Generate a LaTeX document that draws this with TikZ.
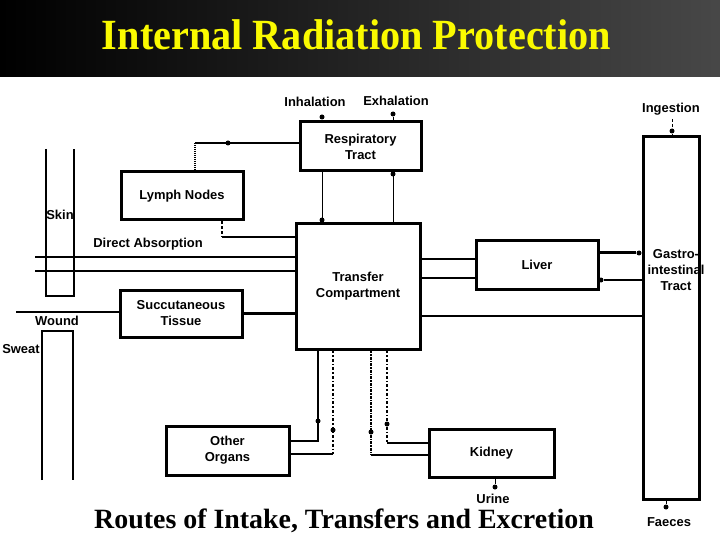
\documentclass[tikz,border=0pt]{standalone}
\usepackage{fontspec}
\setmainfont{Liberation Serif}
\setsansfont{Liberation Sans}
\definecolor{titleyellow}{RGB}{250,250,0}
\begin{document}
\begin{tikzpicture}[x=1bp,y=-1bp,
  lbl/.style={font=\sffamily\bfseries\fontsize{13}{16}\selectfont, inner sep=0, align=center},
  box/.style 2 args={draw, line width=3bp, inner sep=0, align=center,
    font=\sffamily\bfseries\fontsize{13}{16}\selectfont,
    minimum width=#1bp, minimum height=#2bp},
  conn/.style={line width=2.6bp},
  thinconn/.style={line width=1bp},
  blob/.style={circle, fill, inner sep=0, minimum size=5bp}]
\useasboundingbox (0,0) rectangle (720,540);
\fill[white] (0,0) rectangle (720,540);
\shade[left color=black, right color=black!72] (0,0) rectangle (720,77);

% titles
\node[font=\bfseries\fontsize{40}{40}\selectfont, text=titleyellow, inner sep=0] (title) at (356.5,35) {\scalebox{1.01}[1.08]{Internal Radiation Protection}};
\node[font=\bfseries\fontsize{28}{28}\selectfont, inner sep=0] (sub) at (344,521) {Routes of Intake, Transfers and Excretion};

% boxes
\node[box={121}{49}] (resp) at (360.5,146.5) {Respiratory\\Tract};
\node[box={122}{48}] (lymph) at (182,196) {Lymph Nodes};
\node[box={122}{47}] (subc) at (181,313.5) {Succutaneous\\Tissue};
\node[box={124}{125}] (trans) at (358,286.5) {Transfer\\Compartment};
\node[box={122}{48}] (liver) at (537,265) {Liver};
\node[box={56}{362}] (gi) at (671,318) {};
\node[lbl] (gitext) at (676,270) {Gastro-\\intestinal\\Tract};
\node[box={125}{48}] (kidney) at (491.5,453) {Kidney};
\node[box={123}{49}] (other) at (227.5,450.5) {Other\\Organs};

% labels
\node[lbl] (inh) at (315,102) {Inhalation};
\node[lbl] (exh) at (396,101) {Exhalation};
\node[lbl] (ing) at (671,109) {Ingestion};
\node[lbl] (skinl) at (60,215) {Skin};
\node[lbl] (da) at (148,244) {Direct Absorption};
\node[lbl] (wound) at (57,321) {Wound};
\node[lbl] (sweatl) at (21,349) {Sweat};
\node[lbl] (urine) at (493,499) {Urine};
\node[lbl] (faeces) at (669,522) {Faeces};

% dots
\node[blob] (dinh) at (322,117) {};
\node[blob] (dexh) at (393,114) {};
\node[blob] (ding) at (672,131) {};
\node[blob] (drl) at (228,143) {};
\node[blob] (dtin) at (322,220) {};
\node[blob] (dtout) at (393,174) {};
\node[blob] (dlg) at (639,253) {};
\node[blob] (dgl) at (601,280) {};
\node[blob] (do1) at (318,421) {};
\node[blob] (do2) at (333,430) {};
\node[blob] (dk1) at (371,432) {};
\node[blob] (dk2) at (387,424) {};
\node[blob] (durine) at (495,487) {};
\node[blob] (dfaeces) at (666,507) {};

% intake at top
\draw[thinconn] (dinh) -- (dinh |- resp.north);
\draw[thinconn] (dexh) -- (dexh |- resp.north);
\coordinate (ingtop) at (672,119);
\draw[thinconn, densely dashed] (ingtop) -- (ding);
\draw[thinconn] (ding) -- (ding |- gi.north);

% respiratory - lymph
\coordinate (rl) at (195,143);
\draw[conn] (resp.west |- rl) -- (rl);
\draw[thinconn, densely dotted, line width=1.5bp] (rl) -- (rl |- lymph.north);

% lymph - transfer
\coordinate (lt) at (222,237);
\draw[thinconn, densely dashed, line width=1.5bp] (lt |- lymph.south) -- (lt);
\draw[conn] (lt) -- (lt -| trans.west);

% respiratory - transfer
\draw[thinconn] (dtin |- resp.south) -- (dtin |- trans.north);
\draw[thinconn] (dtout |- trans.north) -- (dtout |- resp.south);

% skin
\draw[conn] (46,149) -- (46,296) -- (74,296) -- (74,149);

% direct absorption
\coordinate (da1) at (35,257);
\coordinate (da2) at (35,271);
\draw[conn] (da1) -- (da1 -| trans.west);
\draw[conn] (da2) -- (da2 -| trans.west);

% wound
\coordinate (w0) at (16,312);
\draw[conn] (w0) -- (w0 -| subc.west);
\draw[conn] (subc.east) -- (subc.east -| trans.west);

% sweat
\draw[conn] (42,480) -- (42,331) -- (73,331) -- (73,480);

% transfer - liver - GI
\coordinate (tl1) at (420,259);
\coordinate (tl2) at (420,278);
\draw[conn] (trans.east |- tl1) -- (liver.west |- tl1);
\draw[conn] (trans.east |- tl2) -- (liver.west |- tl2);
\draw[conn, line width=3bp] (liver.east |- dlg) -- (dlg);
\draw[conn] (gi.west |- dgl) -- (dgl);
\coordinate (tg) at (420,316);
\draw[conn] (trans.east |- tg) -- (gi.west |- tg);

% transfer - other organs
\coordinate (o1) at (318,441);
\draw[conn] (do1 |- trans.south) -- (o1) -- (o1 -| other.east);
\coordinate (o2) at (333,454);
\draw[thinconn, line width=1.5bp, dash dot] (do2 |- trans.south) -- (o2);
\draw[conn] (o2) -- (o2 -| other.east);

% transfer - kidney
\coordinate (k1) at (371,455);
\draw[thinconn, line width=1.5bp, densely dash dot] (dk1 |- trans.south) -- (k1);
\draw[conn] (k1) -- (k1 -| kidney.west);
\coordinate (k2) at (387,443);
\draw[thinconn, line width=1.5bp, dash dot] (dk2 |- trans.south) -- (k2);
\draw[conn] (k2) -- (k2 -| kidney.west);

% excretion
\draw[thinconn] (durine |- kidney.south) -- (durine);
\draw[thinconn] (dfaeces |- gi.south) -- (dfaeces);
\end{tikzpicture}
\end{document}
